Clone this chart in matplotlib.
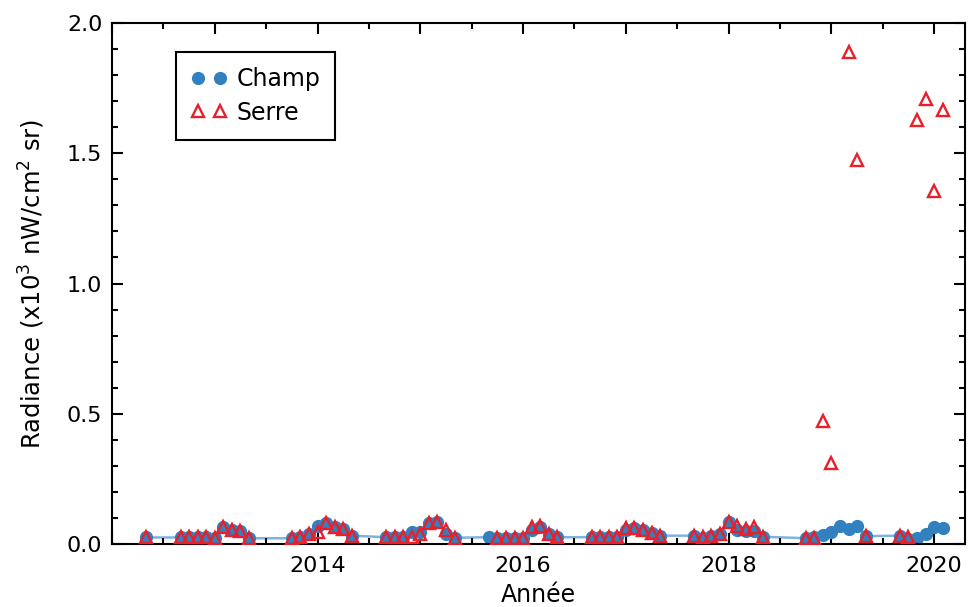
import numpy as np
import matplotlib
matplotlib.use("Agg")
import matplotlib.pyplot as plt
from matplotlib.ticker import MultipleLocator, FuncFormatter

# monthly composites, dates as "YYYY-MM"
champ_dates = ["2012-05", "2012-09", "2012-10", "2012-11", "2012-12",
               "2013-01", "2013-02", "2013-03", "2013-04", "2013-05",
               "2013-10", "2013-11", "2013-12",
               "2014-01", "2014-02", "2014-03", "2014-04", "2014-05",
               "2014-09", "2014-10", "2014-11", "2014-12",
               "2015-01", "2015-02", "2015-03", "2015-04", "2015-05",
               "2015-09", "2015-10", "2015-11", "2015-12",
               "2016-01", "2016-02", "2016-03", "2016-04", "2016-05",
               "2016-09", "2016-10", "2016-11", "2016-12",
               "2017-01", "2017-02", "2017-03", "2017-04", "2017-05",
               "2017-09", "2017-10", "2017-11", "2017-12",
               "2018-01", "2018-02", "2018-03", "2018-04", "2018-05",
               "2018-10", "2018-11", "2018-12",
               "2019-01", "2019-02", "2019-03", "2019-04", "2019-05",
               "2019-09", "2019-10", "2019-11", "2019-12",
               "2020-01", "2020-02"]
champ_vals = [0.025, 0.025, 0.025, 0.028, 0.025,
              0.024, 0.064, 0.055, 0.048, 0.022,
              0.022, 0.026, 0.040,
              0.070, 0.079, 0.064, 0.057, 0.032,
              0.026, 0.028, 0.026, 0.045,
              0.045, 0.079, 0.086, 0.040, 0.024,
              0.026, 0.022, 0.022, 0.022,
              0.024, 0.052, 0.066, 0.037, 0.026,
              0.026, 0.026, 0.026, 0.026,
              0.055, 0.060, 0.054, 0.041, 0.032,
              0.032, 0.022, 0.032, 0.037,
              0.086, 0.054, 0.050, 0.050, 0.028,
              0.022, 0.026, 0.035,
              0.047, 0.068, 0.058, 0.068, 0.030,
              0.032, 0.020, 0.022, 0.037,
              0.066, 0.060]

serre_dates = ["2012-05", "2012-09", "2012-10", "2012-11", "2012-12",
               "2013-01", "2013-02", "2013-03", "2013-04", "2013-05",
               "2013-10", "2013-11", "2013-12",
               "2014-01", "2014-02", "2014-03", "2014-04", "2014-05",
               "2014-09", "2014-10", "2014-11", "2014-12",
               "2015-01", "2015-02", "2015-03", "2015-04", "2015-05",
               "2015-10", "2015-11", "2015-12",
               "2016-01", "2016-02", "2016-03", "2016-04", "2016-05",
               "2016-09", "2016-10", "2016-11", "2016-12",
               "2017-01", "2017-02", "2017-03", "2017-04", "2017-05",
               "2017-09", "2017-10", "2017-11", "2017-12",
               "2018-01", "2018-02", "2018-03", "2018-04", "2018-05",
               "2018-10", "2018-11", "2018-12",
               "2019-01", "2019-03", "2019-04", "2019-05",
               "2019-09", "2019-10", "2019-11", "2019-12",
               "2020-01", "2020-02"]
serre_vals = [0.025, 0.025, 0.025, 0.028, 0.025,
              0.024, 0.064, 0.055, 0.048, 0.022,
              0.022, 0.026, 0.037,
              0.045, 0.079, 0.064, 0.057, 0.032,
              0.026, 0.028, 0.026, 0.028,
              0.037, 0.079, 0.086, 0.054, 0.024,
              0.022, 0.022, 0.022,
              0.024, 0.066, 0.070, 0.037, 0.026,
              0.026, 0.026, 0.026, 0.026,
              0.060, 0.060, 0.054, 0.041, 0.032,
              0.032, 0.028, 0.032, 0.037,
              0.086, 0.070, 0.057, 0.064, 0.028,
              0.022, 0.024, 0.472,
              0.311, 1.888, 1.473, 0.032,
              0.032, 0.026, 1.629, 1.707,
              1.355, 1.665]

year_labels = [2014, 2016, 2018, 2020]


def to_year(dates):
    # decimal year at the start of each month
    return np.array([int(d[:4]) + (int(d[5:]) - 1) / 12 for d in dates])


xc = to_year(champ_dates)
xs = to_year(serre_dates)

plt.rcParams["font.family"] = "DejaVu Sans"
fig = plt.figure(figsize=(9.68, 6.07), dpi=100)
ax = fig.add_axes([0.1157, 0.1038, 0.8812, 0.8582])

ax.plot(xc, champ_vals, color="#7fb2dc", lw=1.8, zorder=1)
ax.plot(xc, champ_vals, "o", color="#3180c0", ms=8.5, ls="none",
        label="Champ", zorder=2)
ax.plot(xs, serre_vals, "^", mfc="none", mec="#e8202a", mew=1.7, ms=8,
        ls="none", label="Serre", zorder=3)

ax.set_xlim(2012.0, 2020.3)
ax.set_ylim(0, 2.0)
ax.xaxis.set_major_locator(MultipleLocator(1))
ax.xaxis.set_minor_locator(MultipleLocator(0.5))
ax.xaxis.set_major_formatter(FuncFormatter(
    lambda v, p: "%d" % round(v) if round(v) in year_labels else ""))
ax.yaxis.set_major_locator(MultipleLocator(0.5))
ax.yaxis.set_minor_locator(MultipleLocator(0.1))
ax.tick_params(which="both", direction="in", top=True, right=True,
               labelsize=16, width=1.5)
ax.tick_params(axis="x", pad=9)
ax.tick_params(axis="y", pad=7)
ax.tick_params(which="major", length=8)
ax.tick_params(which="minor", length=4.5)
for s in ax.spines.values():
    s.set_linewidth(1.5)

ax.set_xlabel("Année", fontsize=17, labelpad=5)
ax.set_ylabel("Radiance (x10$^3$ nW/cm$^2$ sr)", fontsize=17.5, labelpad=14)

leg = ax.legend(loc="upper left", bbox_to_anchor=(0.075, 0.945),
                borderaxespad=0, numpoints=2, fontsize=17, fancybox=False,
                edgecolor="black", framealpha=1, handletextpad=0.4,
                handlelength=1.5, borderpad=0.65, labelspacing=0.4)
leg.get_frame().set_linewidth(1.5)

fig.savefig("out.png", dpi=100)
